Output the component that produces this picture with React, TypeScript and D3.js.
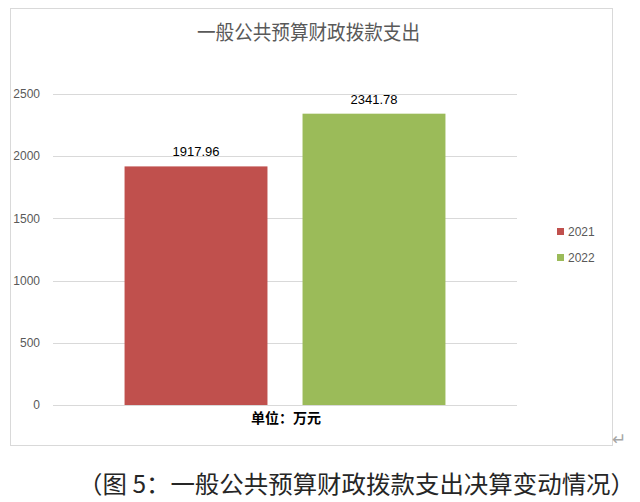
import React, { useEffect, useRef } from "react";
import * as d3 from "d3";

const title = "一般公共预算财政拨款支出";
const years = ["2021", "2022"];
const values = [1917.96, 2341.78];
const colors = ["#C0504D", "#9BBB59"];
const yTicks = [0, 500, 1000, 1500, 2000, 2500];
const unitLabel = "单位：万元";
const caption = "（图 5：一般公共预算财政拨款支出决算变动情况）";

const App = () => {
  const ref = useRef<SVGSVGElement | null>(null);

  useEffect(() => {
    const svg = d3.select(ref.current);
    svg.selectAll("*").remove();

    const cjk = "'Noto Sans CJK SC', 'Noto Sans', sans-serif";
    const latin = "'Liberation Sans', 'DejaVu Sans', sans-serif";

    // chart frame
    svg
      .append("rect")
      .attr("x", 10.5)
      .attr("y", 8.5)
      .attr("width", 602)
      .attr("height", 437)
      .attr("fill", "#fff")
      .attr("stroke", "#d9d9d9");

    // scales
    const x = d3
      .scaleBand<string>()
      .domain(years)
      .range([53, 517])
      .paddingInner(0.197)
      .paddingOuter(0.402);
    const y = d3.scaleLinear().domain([0, 2500]).range([405, 94]);

    // gridlines + tick labels
    const grid = svg.append("g");
    grid
      .selectAll("line")
      .data(yTicks)
      .join("line")
      .attr("x1", 53)
      .attr("x2", 517)
      .attr("y1", (d) => Math.round(y(d)) + 0.5)
      .attr("y2", (d) => Math.round(y(d)) + 0.5)
      .attr("stroke", "#d9d9d9");
    grid
      .selectAll("text")
      .data(yTicks)
      .join("text")
      .attr("x", 40)
      .attr("y", (d) => y(d))
      .attr("dy", "0.35em")
      .attr("text-anchor", "end")
      .attr("font-family", latin)
      .attr("font-size", 12)
      .attr("fill", "#595959")
      .text((d) => d);

    // bars
    svg
      .append("g")
      .selectAll("rect")
      .data(values)
      .join("rect")
      .attr("x", (_, i) => x(years[i])!)
      .attr("width", x.bandwidth())
      .attr("y", (d) => y(d))
      .attr("height", (d) => y(0) - y(d))
      .attr("fill", (_, i) => colors[i]);

    // value labels
    svg
      .append("g")
      .selectAll("text")
      .data(values)
      .join("text")
      .attr("x", (_, i) => x(years[i])! + x.bandwidth() / 2)
      .attr("y", (d) => y(d) - 10)
      .attr("text-anchor", "middle")
      .attr("font-family", latin)
      .attr("font-size", 13)
      .attr("fill", "#000")
      .text((d) => d.toFixed(2));

    // title
    svg
      .append("text")
      .attr("x", 308.5)
      .attr("y", 40)
      .attr("text-anchor", "middle")
      .attr("font-family", cjk)
      .attr("font-size", 20)
      .attr("fill", "#595959")
      .attr("textLength", 223)
      .attr("lengthAdjust", "spacingAndGlyphs")
      .text(title);

    // legend
    const legend = svg
      .append("g")
      .selectAll("g")
      .data(years)
      .join("g")
      .attr("transform", (_, i) => `translate(557, ${232 + i * 26})`);
    legend
      .append("rect")
      .attr("x", 0)
      .attr("y", -4)
      .attr("width", 7)
      .attr("height", 7)
      .attr("fill", (_, i) => colors[i]);
    legend
      .append("text")
      .attr("x", 11)
      .attr("dy", "0.35em")
      .attr("font-family", latin)
      .attr("font-size", 12)
      .attr("fill", "#595959")
      .text((d) => d);

    // unit label
    svg
      .append("text")
      .attr("x", 286)
      .attr("y", 423)
      .attr("text-anchor", "middle")
      .attr("font-family", cjk)
      .attr("font-size", 14)
      .attr("font-weight", "bold")
      .attr("fill", "#000")
      .text(unitLabel);

    // paragraph mark
    svg
      .append("text")
      .attr("x", 612)
      .attr("y", 445)
      .attr("font-family", latin)
      .attr("font-size", 17)
      .attr("fill", "#a6a6a6")
      .text("↵");

    // caption
    svg
      .append("text")
      .attr("x", 78)
      .attr("y", 493)
      .attr("font-family", cjk)
      .attr("font-size", 24)
      .attr("fill", "#262626")
      .attr("textLength", 557)
      .attr("lengthAdjust", "spacingAndGlyphs")
      .text(caption);
  }, []);

  return (
    <svg
      ref={ref}
      width="640"
      height="502"
      style={{ position: "absolute", left: 0, top: 0, background: "#fff" }}
    ></svg>
  );
};

export default App;
